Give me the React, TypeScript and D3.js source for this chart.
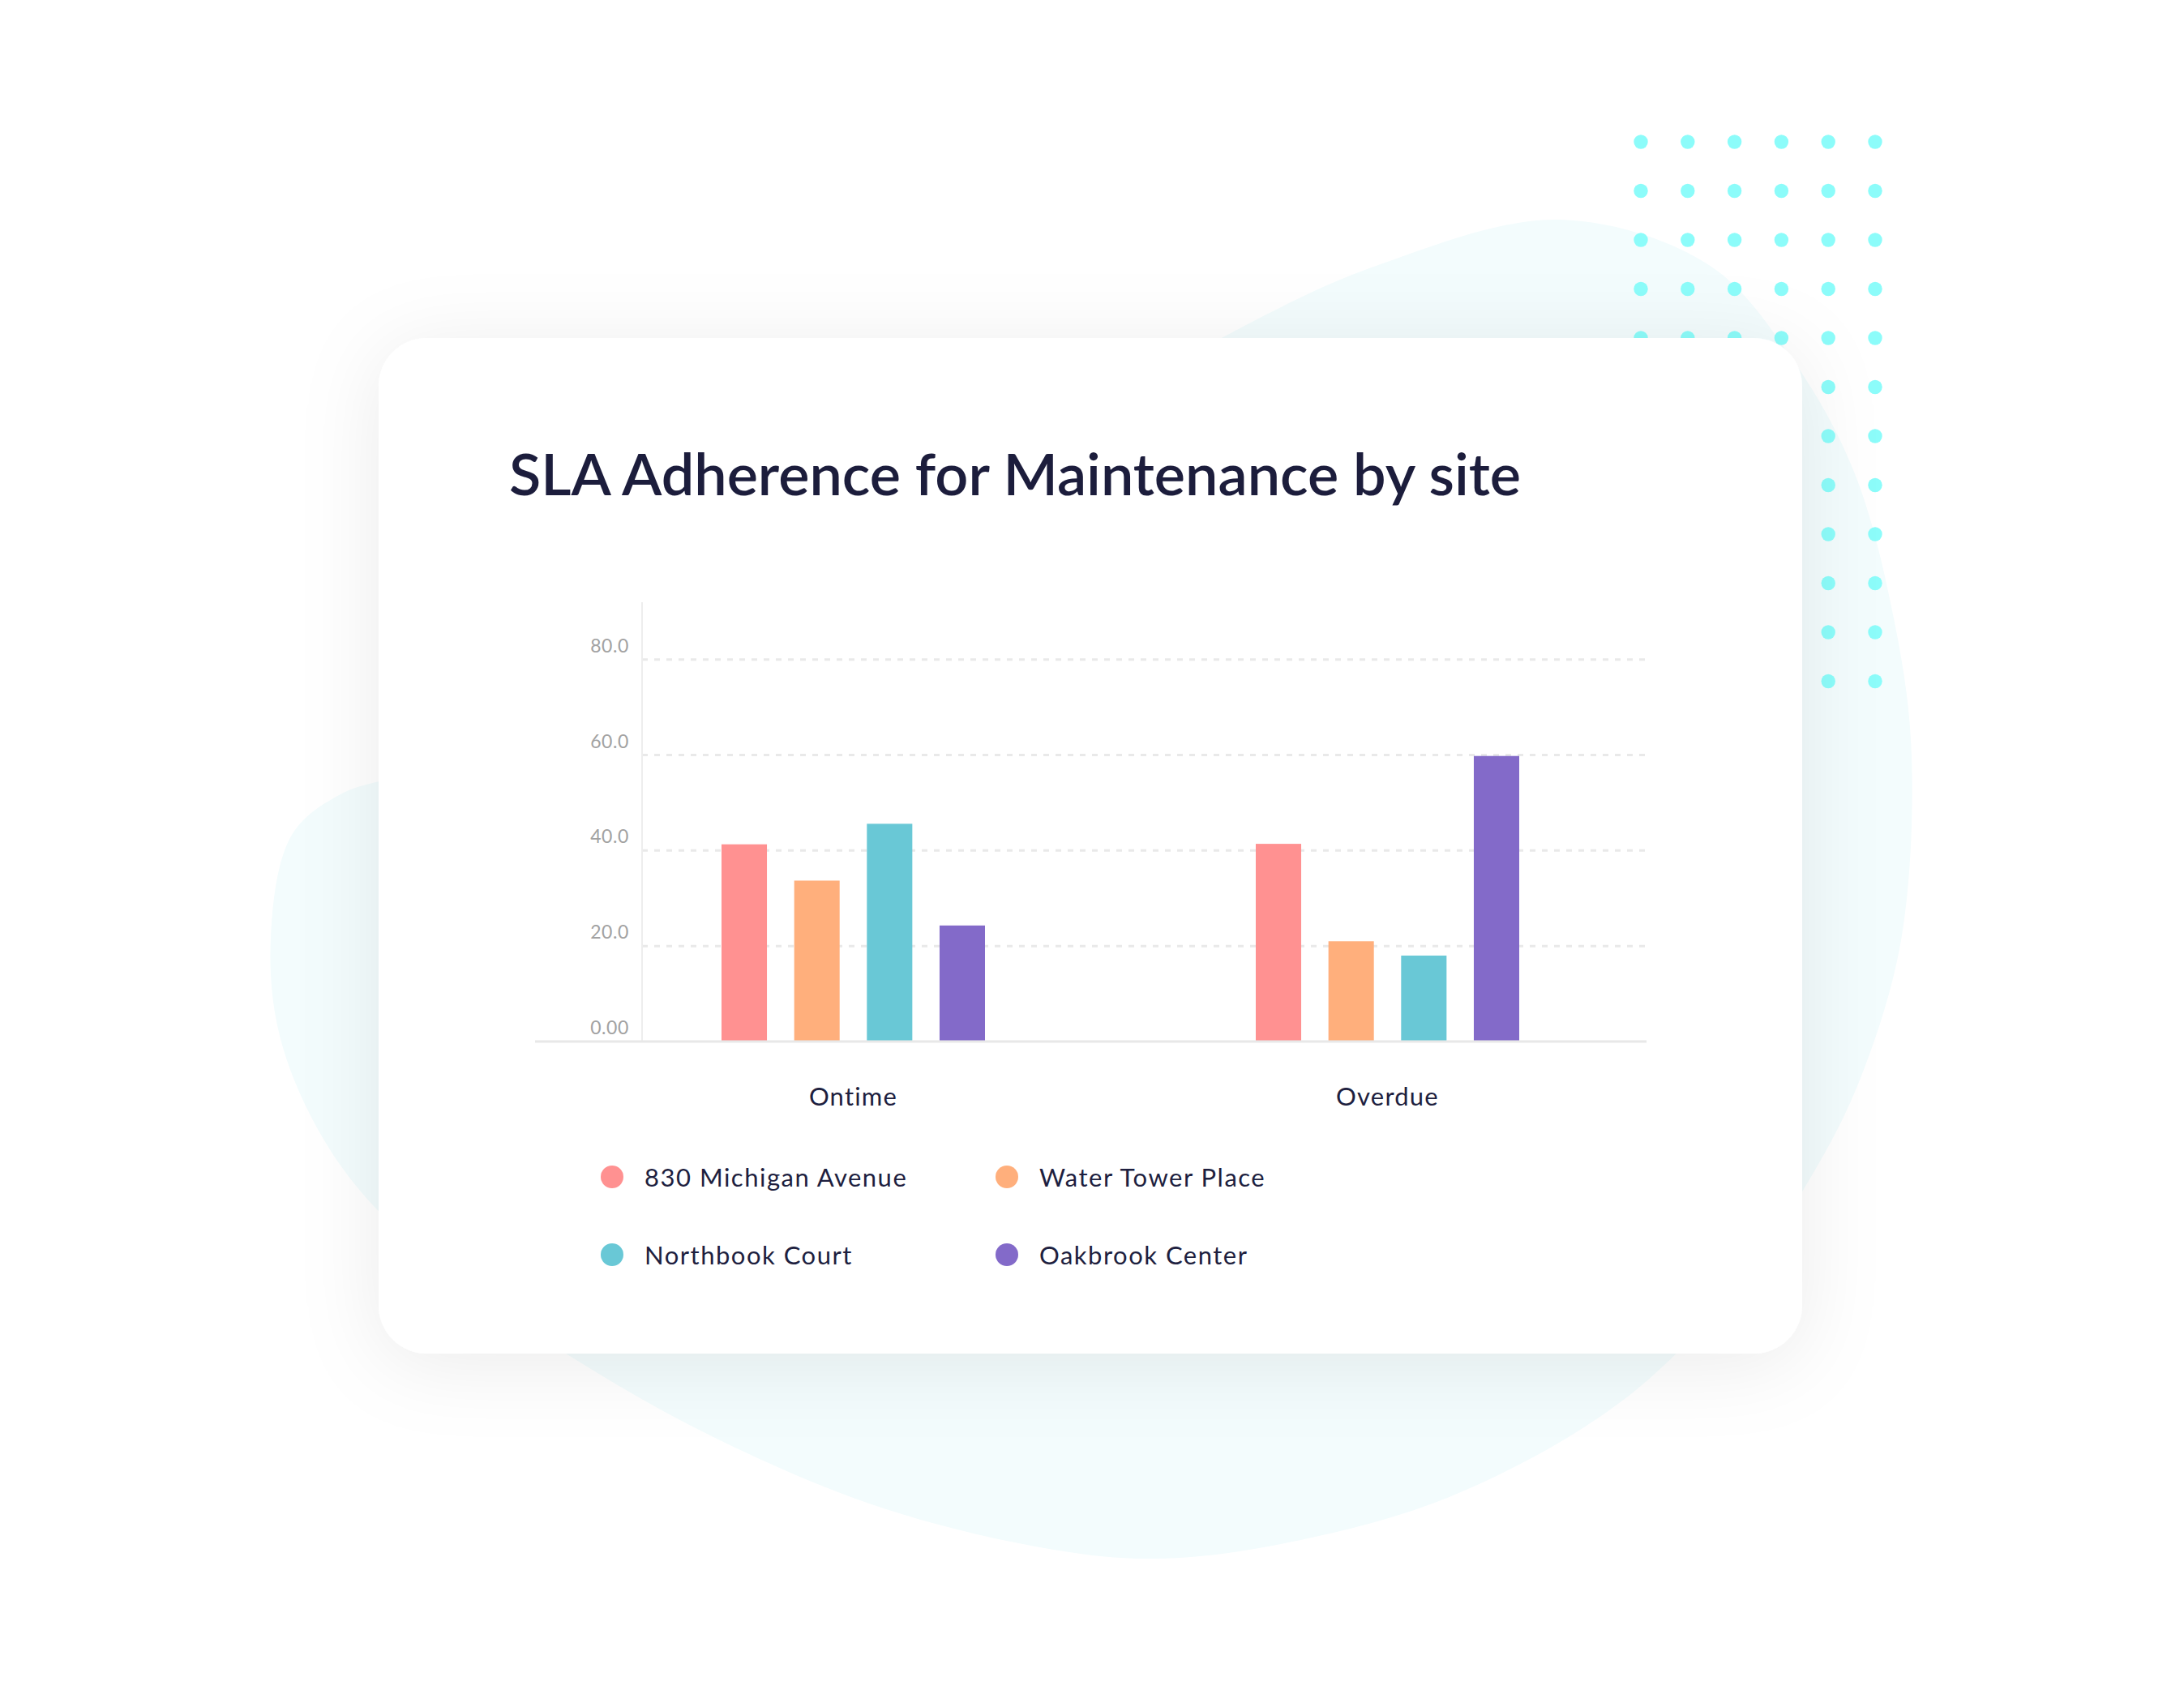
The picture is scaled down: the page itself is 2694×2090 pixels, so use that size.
import { FC, useEffect, useRef } from 'react';
import * as d3 from 'd3';

// Chart data
const categories = ['Ontime', 'Overdue'];
const sites = ['830 Michigan Avenue', 'Water Tower Place', 'Northbook Court', 'Oakbrook Center'];
const michiganAvenue = [41.3, 41.4];
const waterTowerPlace = [33.7, 21.0];
const northbookCourt = [45.6, 18.0];
const oakbrookCenter = [24.3, 59.8];
const yTicks = [0, 20, 40, 60, 80];
const yTickLabels = ['0.00', '20.0', '40.0', '60.0', '80.0'];
const siteColors = ['#FF9191', '#FFAF7C', '#69C8D6', '#836AC9'];

const W = 2694;
const H = 2090;
const FONT = 'Lato, "Open Sans", sans-serif';

// Background blob outline (decoration)
const blobPoints: [number, number][] = [
  [1924, 271], [2108, 327], [2210, 442], [2287, 582], [2338, 773], [2358, 933],
  [2345, 1160], [2295, 1330], [2238, 1445], [2140, 1590], [2000, 1729], [1790, 1846],
  [1580, 1905], [1426, 1923], [1300, 1912], [1090, 1861], [880, 1773], [698, 1670],
  [530, 1553], [418, 1435], [348, 1289], [334, 1157], [360, 1030], [420, 980],
  [500, 955], [800, 850], [1200, 600], [1520, 410], [1700, 327],
];

const App: FC = () => {
  const svgRef = useRef<SVGSVGElement>(null);

  useEffect(() => {
    if (!svgRef.current) return;
    const svg = d3.select(svgRef.current);
    svg.selectAll('*').remove();

    const defs = svg.append('defs');
    const shadow = defs
      .append('filter')
      .attr('id', 'cardShadow')
      .attr('x', '-20%')
      .attr('y', '-25%')
      .attr('width', '140%')
      .attr('height', '155%');
    shadow
      .append('feDropShadow')
      .attr('dx', 0)
      .attr('dy', 12)
      .attr('stdDeviation', 50)
      .attr('flood-color', '#000')
      .attr('flood-opacity', 0.08);

    // Blob
    svg
      .append('path')
      .attr('d', d3.line().curve(d3.curveCatmullRomClosed.alpha(0.5))(blobPoints) || '')
      .attr('fill', '#f3fcfd');

    // Dot grid
    const dotCols = d3.range(6).map((i) => 2024 + i * 57.8);
    const dotRows = d3.range(12).map((i) => 175 + i * 60.5);
    const dotG = svg.append('g');
    dotRows.forEach((cy) =>
      dotCols.forEach((cx) => {
        dotG.append('circle').attr('cx', cx).attr('cy', cy).attr('r', 8.7).attr('fill', '#8cfcfa');
      })
    );

    // Card
    svg
      .append('rect')
      .attr('x', 467)
      .attr('y', 417)
      .attr('width', 2223 - 467)
      .attr('height', 1670 - 417)
      .attr('rx', 60)
      .attr('fill', '#ffffff')
      .attr('filter', 'url(#cardShadow)');

    // Title
    svg
      .append('text')
      .attr('x', 628)
      .attr('y', 611)
      .attr('font-family', FONT)
      .attr('font-size', 72)
      .attr('font-weight', 600)
      .attr('fill', '#1c1d3c')
      .text('SLA Adherence for Maintenance by site');

    // Scales
    const series = sites.map((name, i) => ({
      name,
      values: [michiganAvenue, waterTowerPlace, northbookCourt, oakbrookCenter][i],
    }));

    const x0 = d3.scaleBand().domain(categories).range([723, 2041]);
    const groupWidth = 325;
    const x1 = d3
      .scaleBand()
      .domain(sites)
      .range([(x0.bandwidth() - groupWidth) / 2, (x0.bandwidth() + groupWidth) / 2])
      .paddingInner(0.375);
    const y = d3.scaleLinear().domain([0, 92]).range([1285, 743]);
    const color = d3.scaleOrdinal<string>().domain(sites).range(siteColors);

    const plotLeft = 792;
    const plotRight = 2031;

    // Gridlines
    svg
      .append('g')
      .selectAll('line')
      .data(yTicks.filter((t) => t > 0))
      .enter()
      .append('line')
      .attr('x1', plotLeft)
      .attr('x2', plotRight)
      .attr('y1', (d) => y(d))
      .attr('y2', (d) => y(d))
      .attr('stroke', '#e9e9e9')
      .attr('stroke-width', 3)
      .attr('stroke-dasharray', '7 8');

    // Y axis line
    svg
      .append('line')
      .attr('x1', plotLeft)
      .attr('x2', plotLeft)
      .attr('y1', y(92))
      .attr('y2', y(0))
      .attr('stroke', '#ededed')
      .attr('stroke-width', 2);

    // Tick labels
    svg
      .append('g')
      .selectAll('text')
      .data(yTicks)
      .enter()
      .append('text')
      .attr('x', 776)
      .attr('y', (d) => y(d) - 9)
      .attr('text-anchor', 'end')
      .attr('font-family', FONT)
      .attr('font-size', 23)
      .attr('fill', '#a2a2a2')
      .attr('letter-spacing', 0.6)
      .text((_d, i) => yTickLabels[i]);

    // Bars
    const groups = svg
      .append('g')
      .selectAll('g')
      .data(categories)
      .enter()
      .append('g')
      .attr('transform', (d) => `translate(${x0(d)},0)`);

    groups
      .selectAll('rect')
      .data((_c, ci) => series.map((s) => ({ name: s.name, value: s.values[ci] })))
      .enter()
      .append('rect')
      .attr('x', (d) => x1(d.name) || 0)
      .attr('y', (d) => y(d.value))
      .attr('width', x1.bandwidth())
      .attr('height', (d) => y(0) - y(d.value))
      .attr('fill', (d) => color(d.name));

    // Baseline
    svg
      .append('line')
      .attr('x1', 660)
      .attr('x2', plotRight)
      .attr('y1', y(0))
      .attr('y2', y(0))
      .attr('stroke', '#e8e8e8')
      .attr('stroke-width', 3);

    // Category labels
    svg
      .append('g')
      .selectAll('text')
      .data(categories)
      .enter()
      .append('text')
      .attr('x', (d) => (x0(d) || 0) + x0.bandwidth() / 2)
      .attr('y', 1364)
      .attr('text-anchor', 'middle')
      .attr('font-family', FONT)
      .attr('font-size', 31)
      .attr('letter-spacing', 1.2)
      .attr('fill', '#1e1f3f')
      .text((d) => d);

    // Legend
    const legendX = [755, 1242];
    const legendY = [1452, 1548];
    const legend = svg
      .append('g')
      .selectAll('g')
      .data(sites)
      .enter()
      .append('g')
      .attr('transform', (_d, i) => `translate(${legendX[i % 2]},${legendY[Math.floor(i / 2)]})`);
    legend.append('circle').attr('r', 14).attr('fill', (d) => color(d));
    legend
      .append('text')
      .attr('x', 40)
      .attr('y', 12)
      .attr('font-family', FONT)
      .attr('font-size', 31)
      .attr('letter-spacing', 1.5)
      .attr('fill', '#1e1f3f')
      .text((d) => d);
  }, []);

  return (
    <svg
      ref={svgRef}
      width={W}
      height={H}
      style={{ position: 'absolute', left: 0, top: 0, background: '#ffffff' }}
    />
  );
};

export default App;
